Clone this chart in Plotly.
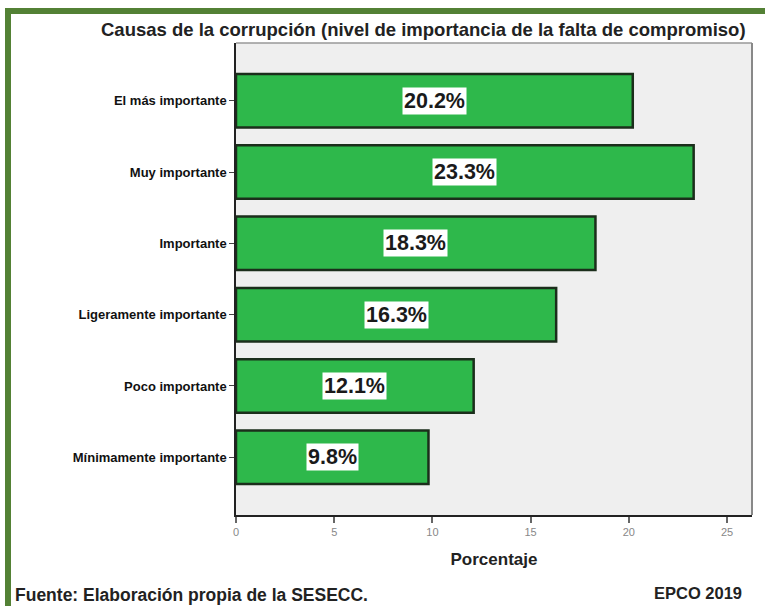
import plotly.graph_objects as go

# Niveles de importancia (de arriba hacia abajo) y porcentajes
categorias = [
    "El más importante",
    "Muy importante",
    "Importante",
    "Ligeramente importante",
    "Poco importante",
    "Mínimamente importante",
]
porcentajes = [20.2, 23.3, 18.3, 16.3, 12.1, 9.8]
etiquetas = [f"{v:.1f}%" for v in porcentajes]
ticks_x = [0, 5, 10, 15, 20, 25]

W, H = 765, 606
L, R, T, B = 236, 13, 43, 91
pw, ph = W - L - R, H - T - B


def px_x(p):
    return (p - L) / pw


def px_y(p):
    return (H - B - p) / ph


FONT = "Liberation Sans, Arial, sans-serif"

fig = go.Figure()
fig.add_trace(go.Bar(
    x=porcentajes,
    y=categorias,
    orientation="h",
    width=0.75,
    marker=dict(color="#2eb84b", line=dict(color="#1b2e1b", width=2.5)),
    hoverinfo="skip",
))

# Etiquetas de valor en recuadro blanco, centradas en cada barra
for cat, v, txt in zip(categorias, porcentajes, etiquetas):
    fig.add_annotation(
        x=v / 2, y=cat, text=f"<b>{txt}</b>", showarrow=False,
        font=dict(family=FONT, size=21.5, color="#1a1a1a"),
        bgcolor="white", borderpad=1,
    )

fig.update_layout(
    width=W, height=H,
    margin=dict(l=L, r=R, t=T, b=B),
    paper_bgcolor="white",
    plot_bgcolor="#efefef",
    showlegend=False,
    bargap=0.25,
)

fig.update_xaxes(
    range=[0, 26.27],
    tickvals=ticks_x,
    ticks="outside", ticklen=6, tickwidth=1.5, tickcolor="#666",
    tickfont=dict(family=FONT, size=11, color="#888"),
    showgrid=False, zeroline=False,
    showline=True, linecolor="#222", linewidth=1.5,
    title=dict(text="<b>Porcentaje</b>", font=dict(family=FONT, size=17, color="#222"), standoff=16),
)
fig.update_yaxes(
    range=[5.81, -0.81],
    ticks="outside", ticklen=5, tickwidth=1, tickcolor="#444",
    tickfont=dict(family=FONT, size=13, color="#111", weight="bold"),
    showgrid=False, zeroline=False,
    showline=True, linecolor="#222", linewidth=1.5,
)

# Borde superior y derecho del área de trazado
fig.add_shape(type="line", xref="paper", yref="paper", x0=0, x1=1, y0=1, y1=1,
              line=dict(color="#999", width=1.5))
fig.add_shape(type="line", xref="paper", yref="paper", x0=1, x1=1, y0=0, y1=1,
              line=dict(color="#888", width=2))

# Marco verde exterior
fig.add_shape(type="rect", xref="paper", yref="paper",
              x0=px_x(8), x1=px_x(790), y0=px_y(11), y1=px_y(630),
              line=dict(color="#538135", width=6), layer="above")

# Título
fig.add_annotation(
    xref="paper", yref="paper", x=px_x(423), y=px_y(29),
    text="<b>Causas de la corrupción (nivel de importancia de la falta de compromiso)</b>",
    showarrow=False, xanchor="center", yanchor="middle",
    font=dict(family=FONT, size=18.5, color="#222"),
)
# Fuente y año
fig.add_annotation(
    xref="paper", yref="paper", x=px_x(13), y=px_y(595),
    text="<b>Fuente: Elaboración propia de la SESECC.</b>",
    showarrow=False, xanchor="left", yanchor="middle",
    font=dict(family=FONT, size=17.5, color="#222"),
)
fig.add_annotation(
    xref="paper", yref="paper", x=px_x(744), y=px_y(593),
    text="<b>EPCO 2019</b>",
    showarrow=False, xanchor="right", yanchor="middle",
    font=dict(family=FONT, size=16.5, color="#222"),
)

fig.write_html("out.html")
